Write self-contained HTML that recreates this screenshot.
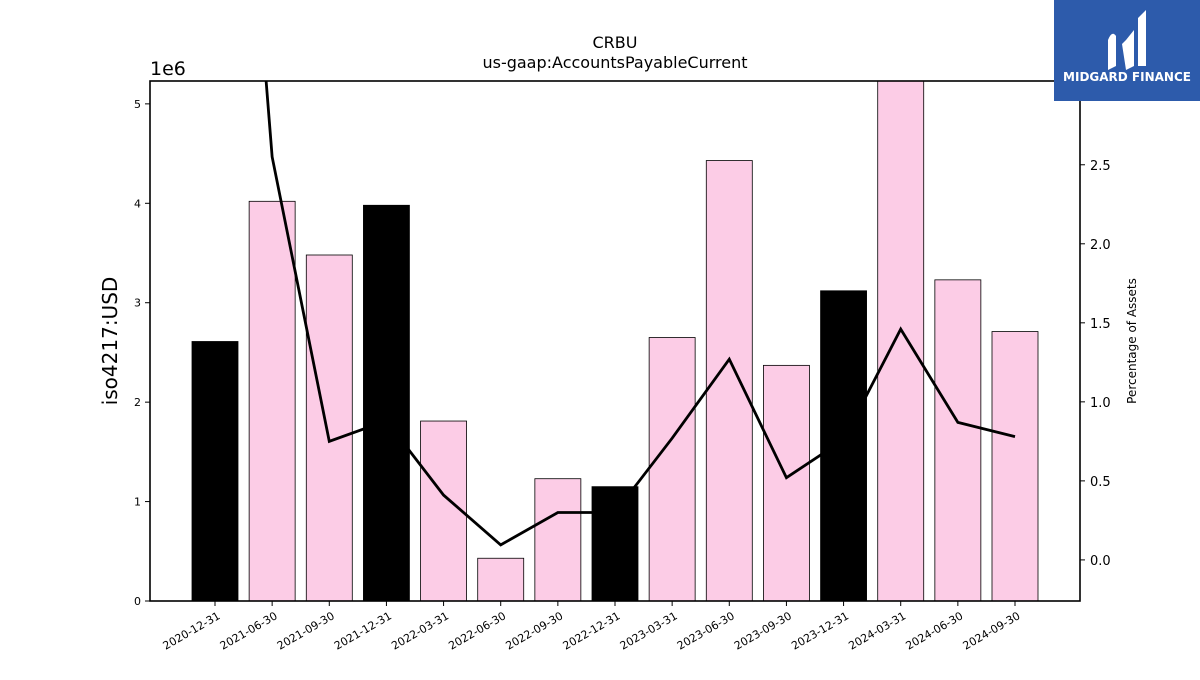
<!DOCTYPE html>
<html><head><meta charset="utf-8"><style>
body{margin:0;background:#fff;font-family:"Liberation Sans","DejaVu Sans",sans-serif;}
svg text{font-family:"DejaVu Sans","Liberation Sans",sans-serif;}
</style></head><body>
<svg id="chart" width="1200" height="675" viewBox="0 0 1200 675" xmlns="http://www.w3.org/2000/svg">
<rect width="1200" height="675" fill="#fff"/>
<text x="615" y="48" text-anchor="middle" font-size="16">CRBU</text>
<text x="615" y="68" text-anchor="middle" font-size="16">us-gaap:AccountsPayableCurrent</text>
<text x="150" y="75" font-size="19">1e6</text>
<text transform="translate(117,341) rotate(-90)" text-anchor="middle" font-size="20">iso4217:USD</text>
<text transform="translate(1136,341) rotate(-90)" text-anchor="middle" font-size="12">Percentage of Assets</text>
<g id="bars-pink"></g>
<g id="line"></g>
<g id="bars-black"></g>
<rect x="150" y="81" width="930" height="520" fill="none" stroke="#000" stroke-width="1.6"/>
<g id="axes"></g>
<g>
<rect x="1054" y="0" width="146" height="101" fill="#2d5bab"/>
<path d="M1108 70 L1108 40 Q1112 30 1116 36 L1116 66 Z M1122 44 L1126 40 L1134 30 L1134 66 L1126 70 Z M1138 66 L1138 18 L1146 10 L1146 66 Z" fill="#fff"/>
<text x="1127" y="81" text-anchor="middle" font-size="12" font-weight="bold" fill="#fff">MIDGARD FINANCE</text>
</g>
</svg>
<script>
const categories=["2020-12-31","2021-06-30","2021-09-30","2021-12-31","2022-03-31","2022-06-30","2022-09-30","2022-12-31","2023-03-31","2023-06-30","2023-09-30","2023-12-31","2024-03-31","2024-06-30","2024-09-30"];
const barValues=[2.61,4.02,3.48,3.98,1.81,0.43,1.23,1.15,2.65,4.43,2.37,3.12,5.23,3.23,2.71];
const annualFlags=[1,0,0,1,0,0,0,1,0,0,0,1,0,0,0];
const pctValues=[7.1,2.55,0.75,0.88,0.41,0.095,0.30,0.30,0.77,1.27,0.52,0.76,1.46,0.87,0.78];
const leftTicks=[0,1,2,3,4,5];
const rightTicks=[0.0,0.5,1.0,1.5,2.0,2.5];
const NS="http://www.w3.org/2000/svg";
const L=150,R=1080,T=81,B=601;
const yMax=5.23, rMin=-0.26, rMax=3.03;
const x=i=>215+i*(1015-215)/(categories.length-1);
const y=v=>B-(v/yMax)*(B-T);
const yr=v=>B-(v-rMin)/(rMax-rMin)*(B-T);
function mk(tag,attrs,parent){const e=document.createElementNS(NS,tag);for(const k in attrs)e.setAttribute(k,attrs[k]);parent.appendChild(e);return e;}
const pink=document.getElementById('bars-pink'),black=document.getElementById('bars-black'),ln=document.getElementById('line'),ax=document.getElementById('axes');
const bw=46;
barValues.forEach((v,i)=>{
  const top=Math.max(T,y(v));
  const g=annualFlags[i]?black:pink;
  const r=mk('rect',{x:x(i)-bw/2,y:top,width:bw,height:B-top,fill:annualFlags[i]?'#000':'#fccce6',stroke:'#000','stroke-width':0.8},g);
  
  
});
const clip=mk('clipPath',{id:'pc'},ln);mk('rect',{x:L,y:T,width:R-L,height:B-T},clip);
const pl=mk('polyline',{points:pctValues.map((v,i)=>x(i)+','+yr(v)).join(' '),fill:'none',stroke:'#000','stroke-width':2.8,'clip-path':'url(#pc)'},ln);


leftTicks.forEach(t=>{
  mk('line',{x1:L-5,x2:L,y1:y(t),y2:y(t),stroke:'#000'},ax);
  const tx=mk('text',{x:L-9,y:y(t)+4,'text-anchor':'end','font-size':11},ax);tx.textContent=t;
  
  
});
rightTicks.forEach(t=>{
  mk('line',{x1:R,x2:R+5,y1:yr(t),y2:yr(t),stroke:'#000'},ax);
  const tx=mk('text',{x:R+10,y:yr(t)+5,'font-size':13},ax);tx.textContent=t.toFixed(1);
  
  
});
categories.forEach((c,i)=>{
  mk('line',{x1:x(i),x2:x(i),y1:B,y2:B+5,stroke:'#000'},ax);
  const tx=mk('text',{transform:`translate(${x(i)+6},${B+17}) rotate(-30)`,'text-anchor':'end','font-size':11},ax);tx.textContent=c;
  
  
});
</script>
</body></html>
